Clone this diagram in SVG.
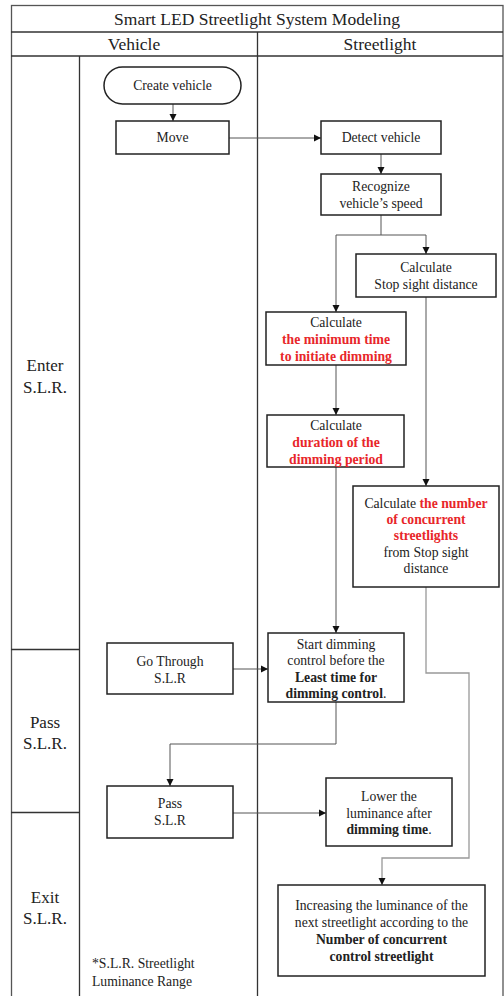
<svg xmlns="http://www.w3.org/2000/svg" width="504" height="996" viewBox="0 0 504 996">
<style>
text{font-family:"Liberation Serif","Times New Roman","DejaVu Serif",serif;fill:#222;text-anchor:middle}
.t{font-size:13.7px}
.h{font-size:17.5px}
.l{font-size:17px}
.b{font-weight:bold}
.r{fill:#e8262a;font-weight:bold}
.frame{fill:none;stroke:#333;stroke-width:1.3}
.node{fill:#fff;stroke:#222;stroke-width:1.5}
.c{fill:none;stroke:#555;stroke-width:1}
.cl{fill:none;stroke:#999;stroke-width:1.3}
</style>
<defs>
<marker id="ah" markerWidth="8" markerHeight="8" refX="7" refY="4" orient="auto" markerUnits="userSpaceOnUse">
<path d="M0,0.5 L7,4 L0,7.5 Z" fill="#111"/>
</marker>
</defs>
<rect width="504" height="996" fill="#fff"/>
<g id="frame">
<rect class="frame" x="11.5" y="5.5" width="491.5" height="1000" style="stroke:#555"/>
<line class="frame" x1="11" y1="32" x2="503" y2="32"/>
<line class="frame" x1="11" y1="56" x2="503" y2="56"/>
<line class="frame" x1="257.5" y1="32" x2="257.5" y2="996"/>
<line class="frame" x1="79.5" y1="56" x2="79.5" y2="996"/>
<line class="frame" x1="11" y1="649.5" x2="79" y2="649.5"/>
<line class="frame" x1="11" y1="812.5" x2="79" y2="812.5"/>
<text class="h" x="257" y="25">Smart LED Streetlight System Modeling</text>
<text class="h" x="134" y="50">Vehicle</text>
<text class="h" x="380" y="50">Streetlight</text>
<text class="l" x="45" y="371">Enter</text>
<text class="l" x="45" y="393">S.L.R.</text>
<text class="l" x="45" y="728">Pass</text>
<text class="l" x="45" y="749">S.L.R.</text>
<text class="l" x="45" y="903">Exit</text>
<text class="l" x="45" y="924">S.L.R.</text>
<text class="t" x="92" y="968" style="text-anchor:start">*S.L.R. Streetlight</text>
<text class="t" x="92" y="986" style="text-anchor:start">Luminance Range</text>
</g>
<g id="connectors">
<line class="c" x1="173" y1="104" x2="173" y2="121" marker-end="url(#ah)"/>
<line class="c" x1="229" y1="138" x2="321" y2="138" marker-end="url(#ah)"/>
<line class="c" x1="381" y1="154" x2="381" y2="174" marker-end="url(#ah)"/>
<polyline class="c" points="381,215 381,235 336,235 336,312" marker-end="url(#ah)"/>
<polyline class="c" points="381,235 426,235 426,254" marker-end="url(#ah)"/>
<line class="c" x1="336" y1="365" x2="336" y2="415" marker-end="url(#ah)"/>
<line class="c" x1="426" y1="297" x2="426" y2="486" marker-end="url(#ah)"/>
<line class="c" x1="336" y1="467" x2="336" y2="633" marker-end="url(#ah)"/>
<line class="c" x1="233" y1="669" x2="268" y2="669" marker-end="url(#ah)"/>
<polyline class="c" points="336,702 336,744 170,744 170,786" marker-end="url(#ah)"/>
<line class="c" x1="233" y1="813" x2="326" y2="813" marker-end="url(#ah)"/>
<polyline class="cl" points="426,587 426,673 469,673 469,858 382,858 382,885" marker-end="url(#ah)"/>
</g>
<g id="create-vehicle">
<rect class="node" x="104" y="67" width="137" height="37" rx="18.5"/>
<text class="t" x="172.5" y="90">Create vehicle</text>
</g>
<g id="move">
<rect class="node" x="116" y="121" width="113" height="33"/>
<text class="t" x="172.5" y="142">Move</text>
</g>
<g id="detect-vehicle">
<rect class="node" x="321" y="121" width="120" height="33"/>
<text class="t" x="381" y="142">Detect vehicle</text>
</g>
<g id="recognize-speed">
<rect class="node" x="321" y="174" width="120" height="41"/>
<text class="t" x="381" y="191">Recognize</text>
<text class="t" x="381" y="208">vehicle’s speed</text>
</g>
<g id="stop-sight">
<rect class="node" x="356" y="254" width="140" height="43"/>
<text class="t" x="426" y="272">Calculate</text>
<text class="t" x="426" y="289">Stop sight distance</text>
</g>
<g id="min-time">
<rect class="node" x="266" y="312" width="140" height="53"/>
<text class="t" x="336" y="327">Calculate</text>
<text class="t r" x="336" y="344">the minimum time</text>
<text class="t r" x="336" y="361">to initiate dimming</text>
</g>
<g id="duration">
<rect class="node" x="267" y="415" width="137" height="52"/>
<text class="t" x="336" y="430">Calculate</text>
<text class="t r" x="336" y="447">duration of the</text>
<text class="t r" x="336" y="464">dimming period</text>
</g>
<g id="num-streetlights">
<rect class="node" x="353" y="486" width="146" height="101"/>
<text class="t" x="426" y="508">Calculate <tspan class="r">the number</tspan></text>
<text class="t r" x="426" y="524">of concurrent</text>
<text class="t r" x="426" y="540">streetlights</text>
<text class="t" x="426" y="557">from Stop sight</text>
<text class="t" x="426" y="573">distance</text>
</g>
<g id="start-dimming">
<rect class="node" x="268" y="633" width="136" height="69"/>
<text class="t" x="336" y="649">Start dimming</text>
<text class="t" x="336" y="665">control before the</text>
<text class="t b" x="336" y="682">Least time for</text>
<text class="t" x="336" y="698"><tspan class="b">dimming control</tspan>.</text>
</g>
<g id="go-through">
<rect class="node" x="107" y="643" width="126" height="51"/>
<text class="t" x="170" y="666">Go Through</text>
<text class="t" x="170" y="683">S.L.R</text>
</g>
<g id="pass-slr">
<rect class="node" x="107" y="786" width="126" height="52"/>
<text class="t" x="170" y="808">Pass</text>
<text class="t" x="170" y="825">S.L.R</text>
</g>
<g id="lower-luminance">
<rect class="node" x="326" y="778" width="126" height="68"/>
<text class="t" x="389" y="801">Lower the</text>
<text class="t" x="389" y="818">luminance after</text>
<text class="t" x="389" y="834"><tspan class="b">dimming time</tspan>.</text>
</g>
<g id="increase-luminance">
<rect class="node" x="278" y="885" width="207" height="91"/>
<text class="t" x="381.5" y="910">Increasing the luminance of the</text>
<text class="t" x="381.5" y="927">next streetlight according to the</text>
<text class="t b" x="381.5" y="944">Number of concurrent</text>
<text class="t b" x="381.5" y="961">control streetlight</text>
</g>
</svg>
